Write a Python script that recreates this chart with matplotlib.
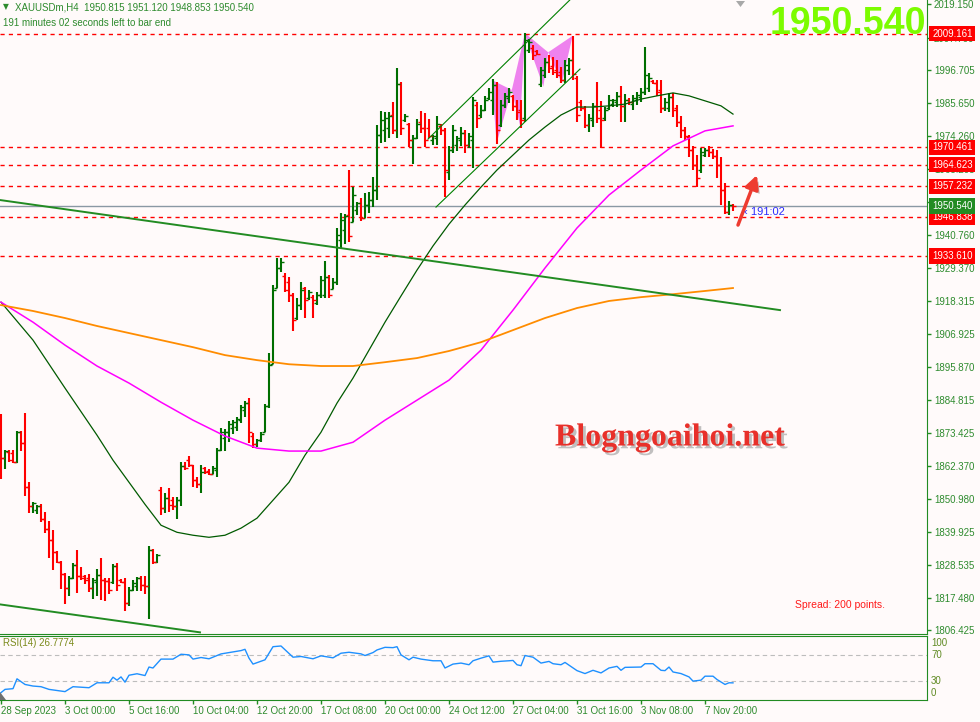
import matplotlib
matplotlib.use("Agg")
import matplotlib.pyplot as plt
import matplotlib.patheffects as pe
from matplotlib.patches import Polygon

# XAUUSDm H4 bars (one entry per bar)
bar_open = [1877.8, 1864.9, 1866.9, 1866.6, 1863.5, 1873.7, 1870.0, 1855.0, 1848.6, 1847.2,
            1848.6, 1844.1, 1840.7, 1837.0, 1832.9, 1829.5, 1825.4, 1820.7, 1824.1, 1828.5,
            1824.8, 1824.8, 1824.1, 1820.7, 1822.7, 1825.1, 1823.4, 1823.1, 1822.7, 1828.2,
            1823.4, 1822.7, 1815.6, 1820.0, 1821.4, 1824.1, 1821.7, 1821.4, 1833.6, 1829.5,
            1854.0, 1847.9, 1851.3, 1850.6, 1848.6, 1850.6, 1862.2, 1864.2, 1862.5, 1857.4,
            1856.0, 1861.5, 1860.5, 1859.4, 1860.8, 1867.6, 1871.7, 1873.7, 1875.1, 1875.4,
            1877.8, 1881.2, 1883.6, 1872.4, 1869.6, 1871.0, 1873.7, 1882.6, 1896.8, 1922.7,
            1929.5, 1926.8, 1924.7, 1920.3, 1912.5, 1916.9, 1922.7, 1919.3, 1919.6, 1917.6,
            1920.3, 1920.3, 1926.4, 1922.3, 1924.7, 1939.0, 1942.4, 1947.5, 1945.1, 1949.2,
            1951.6, 1946.5, 1950.9, 1952.6, 1956.0, 1974.7, 1976.4, 1977.1, 1981.5, 1976.4,
            1992.0, 1979.8, 1978.4, 1973.0, 1973.7, 1979.1, 1977.1, 1977.1, 1973.0, 1973.7,
            1977.8, 1976.4, 1962.1, 1969.6, 1971.3, 1973.0, 1975.4, 1971.3, 1973.0, 1984.9,
            1981.5, 1983.2, 1987.3, 1986.6, 1991.7, 1978.1, 1984.9, 1987.3, 1988.0, 1984.6,
            1983.2, 1980.5, 2003.6, 2004.3, 2003.3, 1992.0, 1995.1, 1999.5, 1998.2, 1996.8,
            1996.1, 1993.4, 1996.8, 2000.2, 1994.1, 1985.9, 1983.9, 1978.1, 1979.8, 1984.6,
            1983.2, 1980.5, 1983.9, 1985.2, 1985.9, 1988.0, 1984.6, 1986.6, 1985.2, 1986.6,
            1987.6, 1989.3, 1990.7, 1993.1, 1992.4, 1990.0, 1983.9, 1983.9, 1987.6, 1983.9,
            1979.1, 1976.4, 1974.0, 1969.6, 1964.5, 1962.8, 1967.9, 1969.6, 1968.9, 1967.6,
            1964.5, 1956.0, 1948.5, 1950.815]
bar_high = [1879.8, 1867.6, 1867.6, 1867.6, 1874.1, 1874.1, 1880.2, 1856.7, 1849.9, 1848.9,
            1849.2, 1846.5, 1843.5, 1840.4, 1833.3, 1829.9, 1825.8, 1824.8, 1829.2, 1833.6,
            1827.8, 1825.1, 1825.4, 1824.1, 1827.1, 1830.9, 1824.1, 1824.1, 1828.8, 1829.2,
            1823.7, 1824.1, 1821.0, 1823.4, 1824.4, 1824.8, 1824.8, 1834.9, 1833.9, 1832.2,
            1855.0, 1853.0, 1854.7, 1851.6, 1851.6, 1863.5, 1863.5, 1865.6, 1862.5, 1858.4,
            1862.5, 1861.8, 1861.1, 1862.2, 1868.3, 1875.1, 1874.7, 1877.5, 1877.8, 1878.8,
            1882.9, 1884.3, 1885.3, 1873.4, 1871.3, 1873.7, 1883.2, 1900.6, 1923.7, 1932.9,
            1932.9, 1927.8, 1926.4, 1921.0, 1919.3, 1924.7, 1923.0, 1922.0, 1920.3, 1921.3,
            1926.8, 1931.9, 1927.1, 1926.1, 1943.1, 1948.2, 1947.8, 1962.8, 1957.0, 1951.9,
            1953.3, 1955.0, 1955.3, 1960.4, 1978.1, 1982.9, 1982.5, 1982.5, 1985.9, 1997.5,
            1992.7, 1981.8, 1978.8, 1974.7, 1980.1, 1982.9, 1982.2, 1980.1, 1974.7, 1981.2,
            1978.4, 1977.1, 1971.0, 1978.1, 1974.4, 1977.4, 1976.4, 1975.4, 1987.6, 1985.9,
            1984.9, 1988.0, 1990.7, 1993.7, 1992.7, 1986.6, 1989.0, 1990.7, 1988.3, 1986.6,
            1986.6, 2009.4, 2007.3, 2005.3, 2003.6, 1997.8, 2000.9, 2001.9, 2001.2, 2000.2,
            1997.8, 2000.2, 2000.9, 2008.4, 1994.8, 1986.6, 1984.6, 1981.8, 1985.6, 1992.7,
            1986.3, 1984.2, 1988.3, 1986.9, 1989.3, 1991.4, 1988.6, 1987.3, 1988.3, 1989.3,
            1990.7, 2004.6, 1995.8, 1993.4, 1993.4, 1993.4, 1987.3, 1989.0, 1989.0, 1984.9,
            1981.2, 1977.4, 1974.7, 1971.0, 1967.9, 1970.3, 1970.3, 1971.0, 1969.9, 1969.6,
            1967.2, 1958.4, 1952.3, 1951.12]
bar_low = [1857.7, 1861.1, 1863.5, 1863.2, 1863.2, 1867.3, 1852.0, 1846.2, 1846.2, 1845.8,
           1843.1, 1839.4, 1830.9, 1826.8, 1829.2, 1820.3, 1815.2, 1818.0, 1823.7, 1819.0,
           1823.4, 1822.0, 1819.3, 1816.9, 1818.0, 1816.6, 1816.2, 1818.6, 1822.0, 1819.7,
           1822.4, 1812.9, 1814.6, 1819.7, 1819.7, 1819.7, 1818.6, 1810.1, 1828.8, 1829.2,
           1845.5, 1846.2, 1846.5, 1847.2, 1844.1, 1848.6, 1860.8, 1861.8, 1855.0, 1854.7,
           1853.0, 1859.4, 1859.1, 1859.4, 1858.4, 1867.3, 1867.3, 1870.3, 1873.0, 1874.1,
           1876.8, 1878.8, 1870.0, 1868.3, 1868.6, 1870.3, 1873.7, 1881.9, 1896.8, 1922.7,
           1928.1, 1921.3, 1917.9, 1908.1, 1911.8, 1915.2, 1912.5, 1918.6, 1912.5, 1916.9,
           1919.3, 1919.3, 1919.3, 1922.3, 1923.7, 1936.3, 1937.6, 1938.3, 1945.1, 1947.5,
           1945.5, 1946.5, 1948.2, 1950.2, 1952.6, 1972.0, 1972.3, 1973.7, 1975.0, 1973.7,
           1974.7, 1979.1, 1970.6, 1964.8, 1973.3, 1975.4, 1970.6, 1973.7, 1971.3, 1971.3,
           1974.7, 1953.6, 1959.4, 1968.6, 1969.3, 1971.0, 1968.6, 1970.3, 1963.5, 1977.1,
           1980.5, 1982.9, 1986.6, 1981.5, 1971.6, 1977.4, 1983.9, 1985.6, 1982.9, 1979.8,
           1977.1, 1979.1, 2002.6, 2000.2, 2001.9, 1991.0, 1994.1, 1995.8, 1995.1, 1994.1,
           1992.4, 1992.4, 1995.1, 1993.4, 1979.1, 1982.9, 1977.1, 1975.7, 1977.4, 1978.8,
           1970.3, 1979.5, 1983.2, 1984.2, 1984.2, 1979.1, 1979.1, 1984.9, 1983.2, 1984.9,
           1985.9, 1988.3, 1989.3, 1992.0, 1988.0, 1982.2, 1982.9, 1982.5, 1980.8, 1977.4,
           1973.7, 1973.0, 1967.2, 1962.8, 1957.0, 1961.8, 1967.2, 1967.2, 1966.5, 1960.1,
           1950.9, 1947.8, 1947.5, 1948.853]
bar_close = [1864.9, 1867.3, 1864.2, 1863.5, 1873.7, 1870.0, 1855.0, 1848.6, 1849.6, 1848.6,
             1844.1, 1840.7, 1837.0, 1832.9, 1829.5, 1825.4, 1820.7, 1824.1, 1828.5, 1824.8,
             1824.1, 1823.4, 1820.7, 1823.4, 1825.1, 1823.4, 1823.1, 1820.0, 1828.2, 1821.7,
             1822.7, 1815.6, 1820.0, 1822.4, 1824.1, 1821.7, 1821.4, 1833.6, 1829.5, 1831.9,
             1847.9, 1851.3, 1848.9, 1848.6, 1850.6, 1862.2, 1861.5, 1862.5, 1857.4, 1856.0,
             1860.1, 1860.1, 1859.4, 1861.5, 1867.6, 1873.7, 1873.7, 1876.4, 1877.1, 1878.1,
             1882.2, 1883.6, 1873.7, 1869.6, 1871.0, 1873.0, 1882.6, 1896.5, 1922.0, 1929.5,
             1931.5, 1922.0, 1920.3, 1911.8, 1916.9, 1922.0, 1918.6, 1921.3, 1918.6, 1920.3,
             1925.4, 1926.4, 1920.3, 1924.7, 1940.7, 1945.8, 1947.2, 1940.4, 1954.3, 1951.6,
             1946.5, 1950.9, 1952.6, 1956.0, 1974.7, 1979.8, 1980.5, 1981.2, 1976.4, 1992.0,
             1977.1, 1981.2, 1973.0, 1973.7, 1978.4, 1977.1, 1973.0, 1974.4, 1974.4, 1978.4,
             1976.4, 1962.8, 1969.6, 1976.4, 1973.7, 1975.4, 1971.3, 1974.4, 1986.6, 1980.5,
             1983.2, 1986.6, 1989.3, 1991.7, 1976.4, 1984.9, 1988.0, 1989.3, 1984.6, 1982.5,
             1979.8, 2007.0, 2006.3, 2001.9, 2002.2, 1996.8, 1999.5, 1997.5, 1996.1, 1995.1,
             1993.4, 1998.5, 2000.2, 1995.4, 1981.5, 1983.9, 1978.1, 1980.5, 1984.6, 1980.5,
             1979.8, 1983.2, 1986.6, 1986.6, 1988.0, 1984.6, 1986.6, 1985.9, 1987.3, 1988.3,
             1989.3, 1995.1, 1994.1, 1992.4, 1989.3, 1983.9, 1985.9, 1987.6, 1983.2, 1979.1,
             1976.4, 1974.4, 1969.6, 1964.5, 1960.1, 1968.9, 1969.6, 1968.9, 1967.6, 1964.5,
             1956.0, 1948.5, 1950.9, 1950.54]

# moving averages
ma_fast_idx = [0, 8, 16, 24, 28, 32, 36, 40, 44, 48, 52, 56, 60, 64, 68, 72,
               76, 80, 84, 88, 92, 96, 100, 104, 108, 112, 116, 120, 124, 128,
               132, 136, 140, 144, 148, 152, 156, 160, 164, 168, 172, 176, 180, 183]
ma_fast = [1917.9, 1905.0, 1888.7, 1872.7, 1864.2, 1856.7, 1849.2, 1842.1, 1839.7, 1838.7,
           1838.0, 1838.7, 1841.1, 1844.5, 1850.6, 1856.7, 1865.9, 1873.7, 1883.6, 1892.1,
           1901.6, 1911.1, 1920.0, 1928.8, 1937.0, 1944.4, 1950.9, 1957.0, 1962.8, 1967.9,
           1973.0, 1977.4, 1981.5, 1984.2, 1984.2, 1984.6, 1985.2, 1986.9, 1988.0, 1989.0,
           1988.0, 1986.3, 1984.6, 1981.8]
ma_idx = [0, 8, 16, 24, 32, 40, 48, 56, 64, 72, 80, 88, 96, 104, 112, 120,
          128, 136, 144, 152, 160, 168, 176, 183]
ma_mid = [1917.9, 1911.1, 1903.3, 1896.2, 1890.4, 1883.9, 1877.8, 1872.4, 1868.3, 1867.3,
          1867.3, 1870.3, 1877.8, 1884.6, 1891.4, 1901.6, 1915.2, 1929.5, 1943.1, 1954.3,
          1962.8, 1971.0, 1976.1, 1977.8]
ma_slow = [1916.9, 1914.9, 1912.5, 1909.8, 1907.4, 1905.0, 1902.6, 1899.9, 1898.2, 1896.8,
           1896.2, 1896.2, 1897.5, 1898.9, 1901.3, 1904.3, 1908.4, 1912.5, 1915.9, 1918.3,
           1919.6, 1920.6, 1921.7, 1922.7]

# RSI(14) turning points
rsi_idx = [0, 1, 3, 4, 6, 8, 10, 12, 16, 18,
           22, 24, 27, 28, 29, 30, 31, 32, 34, 36,
           37, 38, 40, 43, 45, 47, 48, 50, 52, 55,
           60, 61, 62, 63, 66, 68, 70, 73, 75, 78,
           80, 83, 85, 87, 90, 91, 93, 94, 96, 98,
           99, 100, 102, 103, 105, 108, 110, 111, 113, 115,
           117, 118, 120, 122, 123, 125, 127, 128, 129, 130,
           131, 133, 135, 137, 138, 140, 141, 144, 146, 148,
           150, 152, 154, 155, 156, 160, 161, 163, 165, 166,
           167, 168, 170, 172, 173, 175, 176, 178, 179, 181,
           182, 183]
rsi_val = [11.5, 16.6, 17.7, 33.1, 24.3, 21.8, 20.8, 16.6, 13.1, 20.8,
           19.2, 26.9, 26.9, 35.6, 31.0, 36.1, 27.9, 38.7, 41.0, 38.2,
           51.5, 50.0, 63.9, 63.9, 71.5, 70.5, 63.9, 66.4, 64.4, 72.0,
           77.2, 79.2, 65.4, 56.1, 62.8, 83.3, 84.4, 66.9, 68.0, 64.4,
           69.0, 65.9, 73.1, 74.6, 72.1, 69.5, 74.1, 78.2, 82.3, 81.8,
           83.3, 70.5, 62.8, 66.9, 63.9, 61.3, 61.3, 50.0, 56.1, 57.7,
           55.1, 61.3, 65.4, 69.0, 59.2, 60.5, 61.3, 61.8, 55.1, 53.6,
           69.5, 66.9, 57.7, 60.3, 56.7, 55.1, 58.7, 45.9, 41.3, 46.4,
           42.3, 50.0, 52.6, 46.4, 51.0, 51.5, 56.7, 56.7, 46.4, 45.9,
           51.5, 43.8, 41.3, 36.1, 29.5, 31.0, 37.2, 37.2, 32.0, 24.3,
           26.9, 26.78]

# horizontal levels and drawn objects
levels = [2009.161, 1970.461, 1964.623, 1957.232, 1946.838, 1933.610]
bid = 1950.540
trend_long_x, trend_long_y = [-0.25, 194.75], [1952.6, 1915.2]
trend_low_x, trend_low_y = [-0.25, 49.75], [1815.2, 1805.7]
chan_up_x, chan_up_y = [106.75, 143.5], [1973.3, 2022.3]
chan_dn_x, chan_dn_y = [108.75, 144.75], [1950.2, 1997.1]
pat1_x = [122.7, 123.9, 127.7, 129.75, 131.0]
pat1_y = [1993.4, 1971.9, 1990.0, 1978.1, 2009.3]
pat2_x = [130.8, 135.6, 136.8, 140.2, 142.9]
pat2_y = [2009.5, 1991.1, 2002.8, 1992.3, 2008.4]

price_ticks = [2019.150, 2007.760, 1996.705, 1985.650, 1974.260, 1963.205, 1951.815,
               1940.760, 1929.370, 1918.315, 1906.925, 1895.870, 1884.815, 1873.425,
               1862.370, 1850.980, 1839.925, 1828.535, 1817.480, 1806.425]
time_ticks = [0, 16, 32, 48, 64, 80, 96, 112, 128, 144, 160, 176]
time_labels = ['28 Sep 2023', '3 Oct 00:00', '5 Oct 16:00', '10 Oct 04:00', '12 Oct 20:00',
               '17 Oct 08:00', '20 Oct 00:00', '24 Oct 12:00', '27 Oct 04:00',
               '31 Oct 16:00', '3 Nov 08:00', '7 Nov 20:00']

plt.rcParams['font.family'] = ['Liberation Sans', 'DejaVu Sans']

W, H = 980, 722
bg = '#fffafa'
fg = '#2e8b2e'
axc = '#228b22'


def fx(px):
    return px / W


def fy(py):
    return 1 - py / H


fig = plt.figure(figsize=(W / 100, H / 100), dpi=100, facecolor=bg)
ax = fig.add_axes([0, fy(634), fx(927), 634 / H], facecolor=bg)
rx = fig.add_axes([0, fy(700), fx(927), 64 / H], facecolor=bg, sharex=ax)

# bars
n = len(bar_close)
xs = list(range(n))
cols = ['#006e00' if c >= o else '#ff0000' for o, c in zip(bar_open, bar_close)]
ax.vlines(xs, bar_low, bar_high, colors=cols, lw=1.5, zorder=3)
ax.hlines(bar_open, [x - 0.7 for x in xs], xs, colors=cols, lw=1.0, zorder=3)
ax.hlines(bar_close, xs, [x + 0.7 for x in xs], colors=cols, lw=1.0, zorder=3)

# harmonic pattern triangles
for px_, py_ in [(pat1_x, pat1_y), (pat2_x, pat2_y)]:
    ax.fill(px_[:3], py_[:3], color='#ee82ee', lw=0, zorder=1.5)
    ax.fill(px_[2:], py_[2:], color='#ee82ee', lw=0, zorder=1.5)

# moving averages
ax.plot(ma_fast_idx, ma_fast, color='#005a00', lw=0.9, zorder=4)
ax.plot(ma_idx, ma_mid, color='#ff00ff', lw=1.1, zorder=4)
ax.plot(ma_idx, ma_slow, color='#ff8c00', lw=1.3, zorder=4)

# trend lines and channel
ax.plot(trend_long_x, trend_long_y, color='#228b22', lw=1.4, zorder=4)
ax.plot(trend_low_x, trend_low_y, color='#228b22', lw=1.4, zorder=4)
ax.plot(chan_up_x, chan_up_y, color='#008000', lw=0.8, zorder=4)
ax.plot(chan_dn_x, chan_dn_y, color='#008000', lw=0.8, zorder=4)

# levels
for lv in levels:
    ax.axhline(lv, color='#ff0000', lw=1, ls=(0, (3, 3)), zorder=2)
ax.axhline(bid, color='#8a98a4', lw=1, zorder=2)

ax.set_xlim(-0.25, 231.5)
ax.set_ylim(1805.14, 2020.57)

ax.yaxis.tick_right()
ax.set_yticks(price_ticks)
ax.set_yticklabels(['%.3f' % v for v in price_ticks])
ax.tick_params(axis='y', colors=axc, labelcolor=fg, length=3, width=1, pad=2, labelsize=7)
ax.tick_params(axis='x', bottom=False, labelbottom=False)
for s in ['top', 'left']:
    ax.spines[s].set_visible(False)
for s in ['bottom', 'right']:
    ax.spines[s].set_color(axc)

ytr = ax.get_yaxis_transform()
for lv in levels:
    ax.text(1.0055, lv, '%.3f' % lv, transform=ytr, ha='left', va='center', fontsize=7,
            color='white', bbox=dict(boxstyle='square,pad=0.28', fc='#ff0000', ec='none'),
            clip_on=False, zorder=10)
ax.text(1.0055, bid, '%.3f' % bid, transform=ytr, ha='left', va='center', fontsize=7,
        color='white', bbox=dict(boxstyle='square,pad=0.28', fc='#228b22', ec='none'),
        clip_on=False, zorder=10)

# arrow
ann = ax.annotate('', xy=(189, 1961.1), xytext=(184.25, 1944.1),
                  arrowprops=dict(arrowstyle='-|>,head_length=0.8,head_width=0.4',
                                  color='#ee3b30', lw=2.5, shrinkA=0, shrinkB=0), zorder=6)
ann.arrow_patch.set_path_effects([pe.SimplePatchShadow(offset=(2, -2), alpha=0.35), pe.Normal()])

# RSI panel
rx.plot(rsi_idx, rsi_val, color='#1e90ff', lw=1, zorder=3)
rx.axhline(70, color='#bdbdbd', lw=0.8, ls=(0, (4, 3)))
rx.axhline(30, color='#bdbdbd', lw=0.8, ls=(0, (4, 3)))
rx.set_ylim(0, 100)
rx.set_yticks([])
rx.tick_params(axis='y', left=False, right=False, labelleft=False)
rx.set_xticks(time_ticks)
rx.set_xticklabels(time_labels)
for lbl in rx.get_xticklabels():
    lbl.set_horizontalalignment('left')
rx.tick_params(axis='x', colors=axc, labelcolor=fg, length=3, width=1, pad=1.5, labelsize=7)
rx.spines['left'].set_visible(False)
for s in ['top', 'right', 'bottom']:
    rx.spines[s].set_color(axc)

olive = '#5f8a22'
fig.text(fx(931), fy(643), '100', fontsize=7, color=olive, va='center')
fig.text(fx(931), fy(655), '70', fontsize=7, color=olive, va='center')
fig.text(fx(931), fy(681.5), '30', fontsize=7, color=olive, va='center')
fig.text(fx(931), fy(693.5), '0', fontsize=7, color=olive, va='center')
fig.text(fx(3), fy(643), 'RSI(14) 26.7774', fontsize=7, color='#7a8a1a', va='center')
fig.add_artist(Polygon([[fx(0), fy(700)], [fx(0), fy(692)], [fx(6), fy(700)]],
                       closed=True, transform=fig.transFigure, fc='#707070', ec='none'))

# header and annotations
fig.text(fx(3), fy(7), '\u25bc', fontsize=5.5, color='#2e8b2e', va='center',
         family=['DejaVu Sans'])
fig.text(fx(15), fy(7), 'XAUUSDm,H4  1950.815 1951.120 1948.853 1950.540', fontsize=7,
         color=fg, va='center')
fig.text(fx(3), fy(23), '191 minutes 02 seconds left to bar end', fontsize=7,
         color=fg, va='center')
fig.add_artist(Polygon([[fx(736), fy(1)], [fx(745), fy(1)], [fx(740.5), fy(7)]],
                       closed=True, transform=fig.transFigure, fc='#a8a8a8', ec='none'))
fig.text(fx(926), fy(6), '1950.540', fontsize=27, fontweight='bold', color='#7cfc00',
         ha='right', va='top')
fig.text(fx(555), fy(438), 'Blogngoaihoi.net', fontsize=23, fontweight='bold',
         family=['Liberation Serif', 'DejaVu Serif'], color='#e8302a', va='center',
         path_effects=[pe.withSimplePatchShadow(offset=(2, -2), shadow_rgbFace='#999999',
                                                alpha=0.6)])
fig.text(fx(795), fy(605), 'Spread: 200 points.', fontsize=7.5, color='#ff1a1a', va='center')
fig.text(fx(744), fy(212), '\u2039 191:02', fontsize=8, color='#2b2bff', va='center')

fig.savefig('out.png', dpi=100, facecolor=bg)
